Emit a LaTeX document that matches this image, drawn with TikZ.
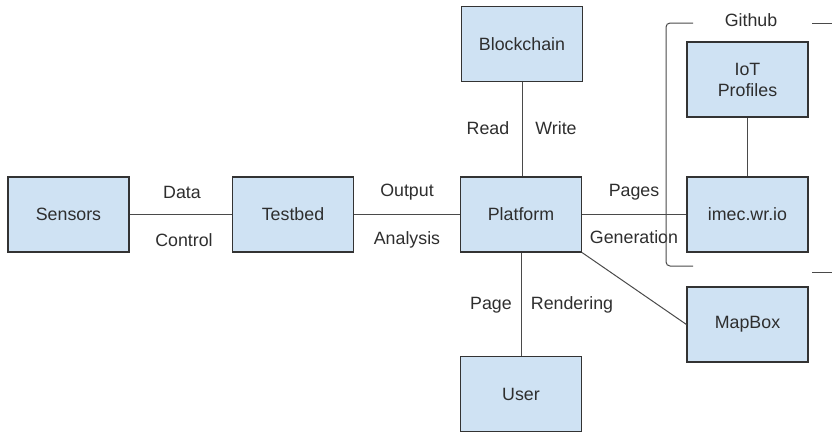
\documentclass[tikz,border=0pt]{standalone}
\usepackage{fontspec}
\setmainfont{Liberation Sans}
\definecolor{boxfill}{HTML}{CFE2F3}
\definecolor{boxline}{HTML}{333333}
\definecolor{lineclr}{HTML}{4A4A4A}
\definecolor{txt}{HTML}{2E2E2E}
\begin{document}
\begin{tikzpicture}[x=1pt,y=-1pt,
  blk/.style={draw=boxline,fill=boxfill,line width=1.1pt,minimum width=121pt,minimum height=75pt,inner sep=0pt,align=center,text=txt,font=\fontsize{17.8}{21}\selectfont},
  lbl/.style={text=txt,font=\fontsize{17.8}{21}\selectfont,inner sep=0pt},
  conn/.style={draw=lineclr,line width=1pt}]
\useasboundingbox (0,0) rectangle (832,432);
\node[blk] (sensors) at (68.5,214.5) {Sensors};
\node[blk] (testbed) at (293,214.5) {Testbed};
\node[blk] (platform) at (521,214.5) {Platform};
\node[blk] (blockchain) at (522,44) {Blockchain};
\node[blk] (iot) at (747.5,79.5) {IoT\\Profiles};
\node[blk] (imec) at (747.5,214.5) {imec.wr.io};
\node[blk] (mapbox) at (747.5,324.5) {MapBox};
\node[blk] (user) at (521,394) {User};
\draw[conn] (sensors) -- (testbed);
\draw[conn] (testbed) -- (platform);
\draw[conn] (platform) -- (imec);
\draw[conn] (blockchain.south) -- (blockchain.south |- platform.north);
\draw[conn] (platform) -- (user);
\draw[conn] (iot) -- (imec);
\draw[conn] (platform.south east) -- (mapbox.west);
\node[lbl] (ldata) at (182,192) {Data};
\node[lbl] (lcontrol) at (184,240) {Control};
\node[lbl] (loutput) at (407,192) {Output};
\node[lbl] (lanalysis) at (407,240) {Analysis};
\node[lbl] (lread) at (488,128) {Read};
\node[lbl] (lwrite) at (556,128) {Write};
\node[lbl] (lpages) at (634,192) {Pages};
\node[lbl] (lgen) at (634,237) {Generation};
\node[lbl] (lpage) at (491,305) {Page};
\node[lbl] (lrender) at (572,305) {Rendering};
\node[lbl] (lgithub) at (751,20) {Github};
\draw[lineclr,line width=1pt,rounded corners=4pt] (693,23) -- (666,23) -- (666,266) -- (693,266);
\draw[lineclr,line width=1pt] (812,23) -- (832,23);
\draw[lineclr,line width=1pt] (812,272) -- (832,272);
\end{tikzpicture}
\end{document}
